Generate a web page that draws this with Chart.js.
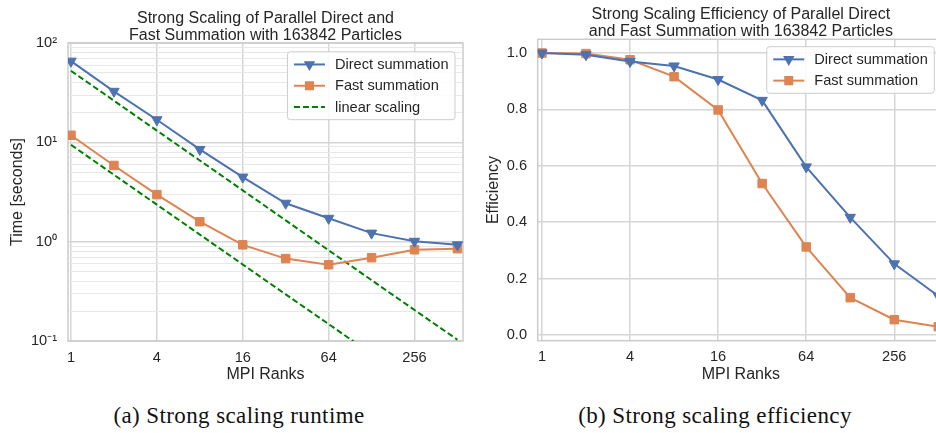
<!DOCTYPE html>
<html>
<head>
<meta charset="utf-8">
<title>Strong scaling</title>
<script src="https://cdn.jsdelivr.net/npm/chart.js@4.4.1/dist/chart.umd.min.js"></script>
<style>
    html, body { margin: 0; padding: 0; overflow: hidden; background: #fff; width: 936px; height: 433px; }
    .panel { position: absolute; top: 0; height: 385px; }
    #leftPanel { left: 0; width: 470px; }
    #rightPanel { left: 466px; width: 494px; }
    .caption {
        position: absolute; top: 403px; width: 400px; height: 26px; line-height: 26px;
        text-align: center; font-family: "Liberation Serif", "DejaVu Serif", serif;
        font-size: 23px; letter-spacing: 0.4px; color: #111;
    }
</style>
</head>
<body>
<div class="panel" id="leftPanel"><canvas id="timeChart"></canvas></div>
<div class="panel" id="rightPanel"><canvas id="effChart"></canvas></div>
<div class="caption" style="left: 39px;">(a) Strong scaling runtime</div>
<div class="caption" style="left: 515px;">(b) Strong scaling efficiency</div>

<script>
// values
const ranks = [1, 2, 4, 8, 16, 32, 64, 128, 256, 512];
const directTime = [65.8, 32.7, 16.9, 8.5, 4.47, 2.44, 1.72, 1.22, 1.01, 0.93];
const fastTime = [11.8, 5.86, 2.98, 1.59, 0.93, 0.676, 0.586, 0.69, 0.83, 0.85];
const linearDirect = [52.6, 26.3, 13.15, 6.58, 3.29, 1.64, 0.82, 0.41, 0.205, 0.103];
const linearFast = [9.45, 4.72, 2.36, 1.18, 0.59, 0.295, 0.148, 0.074, 0.037, 0.018];
const directEff = [1.0, 0.994, 0.97, 0.954, 0.906, 0.832, 0.596, 0.417, 0.252, 0.138];
const fastEff = [1.0, 0.998, 0.976, 0.916, 0.798, 0.537, 0.312, 0.132, 0.054, 0.029];

// axis ticks
const rankTicks = [1, 4, 16, 64, 256];
const timeDecades = [0.1, 1, 10, 100];
const effTicks = [0, 0.2, 0.4, 0.6, 0.8, 1.0];

const BLUE = '#4c72b0';
const ORANGE = '#dd8452';
const GREEN = '#008000';
const TEXT = '#262626';
const GRID = '#d6d6d6';
const MINOR = '#e8e8e8';
const FONT = '"Liberation Sans", Arial, sans-serif';

Chart.defaults.font.family = FONT;
Chart.defaults.color = TEXT;
Chart.defaults.animation = false;

const sup = { '-1': '\u207B\u00B9', '0': '\u2070', '1': '\u00B9', '2': '\u00B2' };

function toPoints(ys) {
    return ranks.map((r, i) => ({ x: r, y: ys[i] }));
}

function isDecade(v) {
    const l = Math.log10(v);
    return Math.abs(l - Math.round(l)) < 1e-6;
}

// minor grid for the log time axis: 1..9 times each decade
function logGrid(decades) {
    const vals = [];
    decades.forEach((d, i) => {
        if (i === decades.length - 1) { vals.push(d); return; }
        for (let k = 1; k < 10; k++) vals.push(+(k * d).toPrecision(3));
    });
    return vals;
}

// grey frame round the plot area
const framePlugin = {
    id: 'frame',
    beforeDatasetsDraw(chart) {
        const a = chart.chartArea;
        const ctx = chart.ctx;
        ctx.save();
        ctx.strokeStyle = '#cccccc';
        ctx.lineWidth = 1.5;
        ctx.strokeRect(a.left, a.top, a.right - a.left, a.bottom - a.top);
        ctx.restore();
    }
};

// matplotlib-like legend box in the upper right of the plot area
const boxLegend = {
    id: 'boxLegend',
    afterDraw(chart, args, opts) {
        const ctx = chart.ctx;
        const a = chart.chartArea;
        const items = chart.data.datasets.filter(d => d.legend !== false);
        ctx.save();
        ctx.font = '14.6px ' + FONT;
        const textW = Math.max(...items.map(d => ctx.measureText(d.label).width));
        const pad = 6.5, lineLen = 31, gap = 10, rowH = 21.3;
        const w = pad + lineLen + gap + textW + pad;
        const h = items.length * rowH + 4;
        const x0 = a.right - opts.marginRight - w;
        const y0 = a.top + opts.marginTop;

        ctx.fillStyle = 'rgba(255,255,255,0.85)';
        ctx.strokeStyle = '#cccccc';
        ctx.lineWidth = 1;
        ctx.beginPath();
        ctx.roundRect(x0, y0, w, h, 3);
        ctx.fill();
        ctx.stroke();

        items.forEach((d, i) => {
            const cy = y0 + 2 + rowH * (i + 0.5);
            const lx = x0 + pad;
            ctx.strokeStyle = d.borderColor;
            ctx.lineWidth = d.borderWidth;
            ctx.setLineDash(d.borderDash || []);
            ctx.beginPath();
            ctx.moveTo(lx, cy);
            ctx.lineTo(lx + lineLen, cy);
            ctx.stroke();
            ctx.setLineDash([]);
            if (d.pointRadius > 0) {
                ctx.fillStyle = d.pointBackgroundColor;
                ctx.strokeStyle = d.pointBorderColor;
                Chart.helpers.drawPoint(ctx, {
                    pointStyle: d.pointStyle,
                    rotation: d.pointRotation || 0,
                    radius: d.pointStyle === 'rect' ? 5 : 4.6,
                    borderWidth: 1
                }, lx + lineLen / 2, cy);
            }
            ctx.fillStyle = TEXT;
            ctx.textBaseline = 'middle';
            ctx.textAlign = 'left';
            ctx.fillText(d.label, lx + lineLen + gap, cy + 0.5);
        });
        ctx.restore();
    }
};

function seriesStyle(color, style) {
    return {
        borderColor: color,
        backgroundColor: color,
        pointBackgroundColor: color,
        pointBorderColor: color,
        borderWidth: 2,
        pointRadius: 6,
        pointBorderWidth: 1,
        pointStyle: style,
        pointRotation: style === 'triangle' ? 180 : 0,
        tension: 0
    };
}

function rankAxis(min, max, height) {
    return {
        type: 'logarithmic',
        min: min,
        max: max,
        afterBuildTicks: s => { s.ticks = rankTicks.map(v => ({ value: v })); },
        afterFit: s => { s.height = height; },
        grid: { color: GRID, lineWidth: 1.5, drawTicks: false },
        border: { display: false },
        ticks: {
            autoSkip: false, maxRotation: 0, padding: 8,
            font: { size: 14.6 }, color: TEXT,
            callback: v => String(v)
        },
        title: {
            display: true, text: 'MPI Ranks', color: TEXT,
            font: { size: 16 }, padding: { top: 0, bottom: 0.4 }
        }
    };
}

// (a) runtime, log-log
new Chart(document.getElementById('timeChart'), {
    type: 'line',
    data: {
        datasets: [
            Object.assign({ label: 'Direct summation', data: toPoints(directTime) }, seriesStyle(BLUE, 'triangle')),
            Object.assign({ label: 'Fast summation', data: toPoints(fastTime) }, seriesStyle(ORANGE, 'rect')),
            { label: 'linear scaling', data: toPoints(linearDirect), borderColor: GREEN, borderWidth: 2,
              borderDash: [6, 3], pointRadius: 0 },
            { label: 'linear scaling', legend: false, data: toPoints(linearFast), borderColor: GREEN,
              borderWidth: 2, borderDash: [6, 3], pointRadius: 0 }
        ]
    },
    options: {
        responsive: true,
        maintainAspectRatio: false,
        devicePixelRatio: 1,
        layout: { padding: { left: 0, right: 4, top: 0, bottom: 0 } },
        scales: {
            x: rankAxis(0.953, 560, 44),
            y: {
                type: 'logarithmic',
                min: 0.1,
                max: 100,
                afterBuildTicks: s => { s.ticks = logGrid(timeDecades).map(v => ({ value: v })); },
                afterFit: s => { s.width = 68; },
                grid: {
                    drawTicks: false,
                    color: c => isDecade(c.tick.value) ? GRID : MINOR,
                    lineWidth: c => isDecade(c.tick.value) ? 1.5 : 1
                },
                border: { display: false },
                ticks: {
                    autoSkip: false, padding: 11,
                    font: { size: 14.6 }, color: TEXT,
                    callback: v => isDecade(v) ? '10' + sup[String(Math.round(Math.log10(v)))] : ''
                },
                title: {
                    display: true, text: 'Time [seconds]', color: TEXT,
                    font: { size: 16 }, padding: { top: 7.9, bottom: 0 }
                }
            }
        },
        plugins: {
            legend: { display: false },
            tooltip: { enabled: false },
            title: {
                display: true,
                fullSize: false,
                text: ['Strong Scaling of Parallel Direct and', 'Fast Summation with 163842 Particles'],
                color: TEXT,
                font: { size: 16, weight: 'normal', lineHeight: 1.1 },
                padding: { top: 9.5, bottom: -1.6 }
            },
            boxLegend: { marginRight: 8, marginTop: 8.7 }
        }
    },
    plugins: [framePlugin, boxLegend]
});

// (b) efficiency
new Chart(document.getElementById('effChart'), {
    type: 'line',
    data: {
        datasets: [
            Object.assign({ label: 'Direct summation', data: toPoints(directEff) }, seriesStyle(BLUE, 'triangle')),
            Object.assign({ label: 'Fast summation', data: toPoints(fastEff) }, seriesStyle(ORANGE, 'rect'))
        ]
    },
    options: {
        responsive: true,
        maintainAspectRatio: false,
        devicePixelRatio: 1,
        layout: { padding: { left: 0, right: 16, top: 0, bottom: 0 } },
        scales: {
            x: rankAxis(0.935, 560, 44.3),
            y: {
                type: 'linear',
                min: -0.0206,
                max: 1.0486,
                afterBuildTicks: s => { s.ticks = effTicks.map(v => ({ value: v })); },
                afterFit: s => { s.width = 71.7; },
                grid: { color: GRID, lineWidth: 1.5, drawTicks: false },
                border: { display: false },
                ticks: {
                    autoSkip: false, padding: 10.7,
                    font: { size: 14.6 }, color: TEXT,
                    callback: v => v.toFixed(1)
                },
                title: {
                    display: true, text: 'Efficiency', color: TEXT,
                    font: { size: 16 }, padding: { top: 18.4, bottom: 0 }
                }
            }
        },
        plugins: {
            legend: { display: false },
            tooltip: { enabled: false },
            title: {
                display: true,
                fullSize: false,
                text: ['Strong Scaling Efficiency of Parallel Direct', 'and Fast Summation with 163842 Particles'],
                color: TEXT,
                font: { size: 16, weight: 'normal', lineHeight: 1.1 },
                padding: { top: 5.4, bottom: -1.3 }
            },
            boxLegend: { marginRight: 9.7, marginTop: 7.4 }
        }
    },
    plugins: [framePlugin, boxLegend]
});
</script>
</body>
</html>
